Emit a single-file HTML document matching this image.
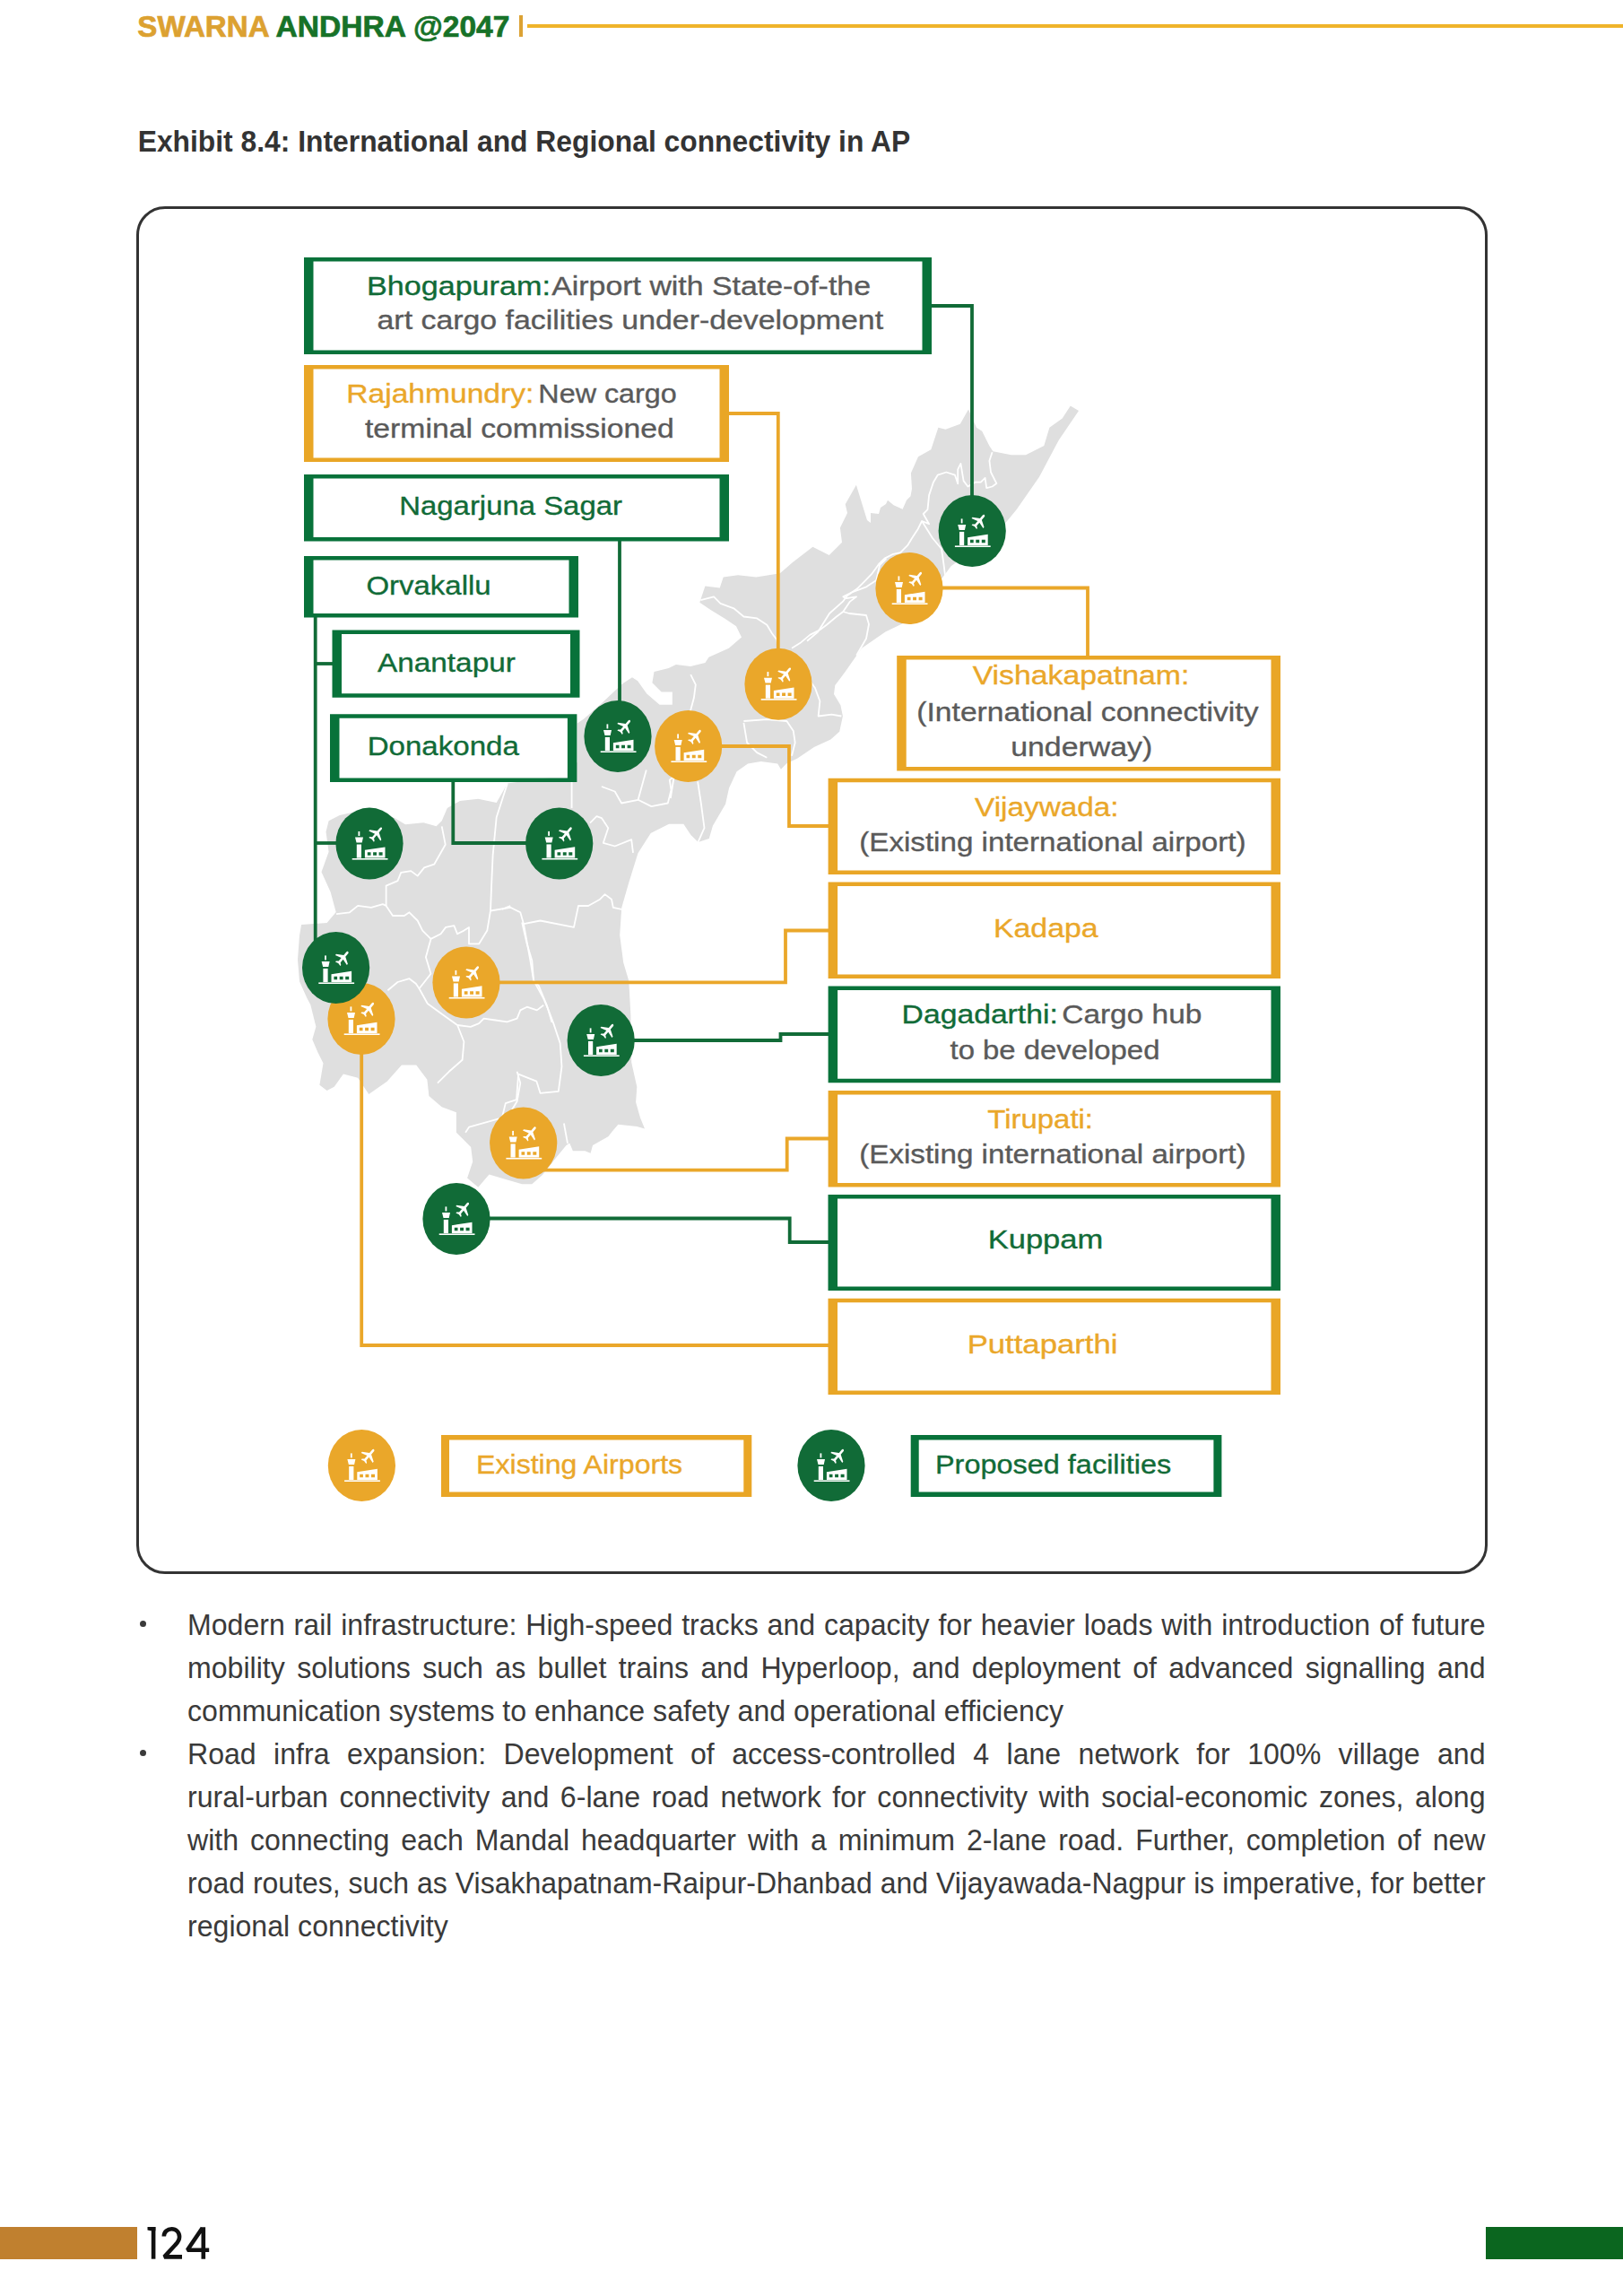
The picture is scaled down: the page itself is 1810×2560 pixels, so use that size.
<!DOCTYPE html>
<html><head><meta charset="utf-8"><style>
html,body{margin:0;padding:0;background:#fff;}
body{width:1810px;height:2560px;position:relative;overflow:hidden;font-family:"Liberation Sans",sans-serif;}
svg text{font-family:"Liberation Sans",sans-serif;}
.abs{position:absolute;white-space:nowrap;}
.bl{position:absolute;left:209px;width:1511px;font-size:33.5px;color:#3a3a3a;white-space:nowrap;line-height:48px;height:48px;transform:scaleX(0.958);transform-origin:0 0;}
.j{text-align:justify;text-align-last:justify;}
.dot{position:absolute;left:155.5px;width:7px;height:7px;border-radius:50%;background:#3a3a3a;}
</style></head><body>

<svg class="abs" style="left:0;top:0" width="1810" height="200"><text x="153.35" y="40.7" font-size="32.6" font-weight="bold" fill="#dca131" stroke="#dca131" stroke-width="0.7" textLength="147.23" lengthAdjust="spacingAndGlyphs">SWARNA</text><text x="307.46" y="40.7" font-size="32.6" font-weight="bold" fill="#177228" stroke="#177228" stroke-width="0.7" textLength="261.01" lengthAdjust="spacingAndGlyphs">ANDHRA @2047</text><text x="153.67" y="168.5" font-size="33.1" font-weight="bold" fill="#333" textLength="861.52" lengthAdjust="spacingAndGlyphs">Exhibit 8.4: International and Regional connectivity in AP</text></svg>
<div class="abs" style="left:578.8px;top:17px;width:4.4px;height:23.8px;background:#dca234"></div>
<div class="abs" style="left:587.6px;top:27.3px;width:1223px;height:3.4px;background:#efb42a"></div>
<div class="abs" style="left:151.5px;top:229.5px;width:1501px;height:1519px;border:3px solid #333;border-radius:32px;"></div>
<svg width="1810" height="2560" style="position:absolute;left:0;top:0"><polygon points="1203,458 1180.6,491 1159,531.7 1133.8,568 1122.7,581.5 1090,610 1060.6,631.3 1051.5,643.5 1028.8,673 1006.6,695.3 987.4,704.5 961,722.8 942.4,749.3 931.3,764.1 930,774 937.4,786.3 939.9,798.6 936.2,815.8 926.4,824.5 907.9,833.1 889.4,845.4 877,851.6 870.9,857.7 867.2,851.6 848.7,849.1 834,851.6 821.6,860.2 813,878.7 809.1,896.4 794.9,920.8 790.8,935 778.6,939.1 770.5,931 762.3,918.8 746,918.8 725.7,929 711.5,951.3 701.3,983.9 693.2,1012.3 691.2,1042.8 695.2,1073.3 701.3,1093.7 703.4,1132.3 704.2,1184.6 710.3,1211.8 709.1,1229 714,1246.3 719,1258.6 710.3,1256.1 689.4,1253.7 683.2,1261 678.3,1267.2 661,1277 658.6,1285.7 652.4,1283.2 638.9,1283.2 635.2,1274.6 631.5,1277 619.2,1291.9 605,1310 593.3,1320.2 582.2,1320.2 564.9,1315.3 545.5,1309.4 533.3,1323.7 521.1,1313.5 527.2,1295.2 525.2,1278.9 508.9,1262.7 508.9,1240.3 492.7,1234.2 478.4,1222 476.4,1203.7 464.2,1187.4 447.9,1187.4 431.7,1205.7 411.3,1220 399.1,1201.7 382.9,1197.6 372.7,1211.8 364.6,1215.9 356.4,1209.8 360.5,1185.4 354.4,1173.2 348.3,1159 352.4,1144.7 346.3,1120.3 342.2,1112.5 334,1094.2 332,1070 334,1043.3 336.1,1031.1 364.6,1029.1 374.7,1016.9 368.6,994.5 358.5,972.2 366.6,949.8 363.5,927.4 366.6,915.2 378.8,909.1 410,902 440,912 452,919.3 472.3,917.3 486.6,921.3 492.7,915.2 498.8,901 513,892.9 533.3,890.8 553.7,894.9 561.8,880.7 565.9,873.5 620,866 643.8,850 643.8,806.5 651.2,801.6 670,785 694.3,762.2 705,755.2 711.2,759.3 721.3,773.5 735.6,785.7 749.8,785.7 749.8,771.5 737.6,771.5 727.4,761.3 729.5,749 745.7,745 753.9,741 770,743 786.4,739 790.5,732.8 812.8,722.7 827,710.5 821,698.3 808.8,690 792.5,680 780.3,671.8 786.4,653.5 802.7,655.6 806.7,643.4 823,641.3 843.3,643.4 869.8,639.3 884,627 906.4,609.8 924.7,619 939,604.7 936.9,588.5 945,572 942.7,562.2 954.9,540.8 967,580 971,583 971,572 980,573 982,566 988,562 990,557.7 996.6,563.3 1006.6,567.7 1011,557.7 1015.5,553.3 1017,545 1015.9,527.6 1024,509.3 1038.3,501.2 1046.4,476.8 1054.5,478.8 1070.8,472.7 1080,456.4 1089,476.8 1095.2,480.8 1103.3,497 1107.4,503.2 1127.7,507.3 1144,507.3 1164.3,497 1170.4,476.8 1184.7,466.6 1193.8,452.4" fill="#dfdfdf"/><polyline points="375.1,1019.2 389.9,1017.3 399.1,1009.9 413.9,1011.8 426.9,1008.1 430.6,1009.9 438,1021 450.9,1021 456.5,1017.3 465.7,1026.5 471.2,1037.6 480.5,1046.9 491.6,1041.3 497.1,1033.9 506.4,1032.1 510.1,1041.3 517.4,1037.6 523,1033.9 523,1052.4 534.1,1052.4 543.3,1037.6 547,1015.5 548,990 549.6,953.9 553.7,911.2 565.9,873.5" fill="none" stroke="#fff" stroke-width="1.8" stroke-linejoin="round"/><polyline points="430.6,1009.9 430.6,987.7 443.5,982.2 447.2,972.9 458.3,971.1 465.7,976.6 473.1,967.4 484.2,963.7 496.7,941.7 492.7,921.3" fill="none" stroke="#fff" stroke-width="1.8" stroke-linejoin="round"/><polyline points="547,1015.5 569.2,1011.8 580.3,1017.3 584,1030.2 602.5,1026.5 640,1033.9 645,1010 656.1,1010 669.1,1002.7 674.6,997.1 682,1002.7 683.8,1011.9 693.1,1013.8" fill="none" stroke="#fff" stroke-width="1.8" stroke-linejoin="round"/><polyline points="584,1030.2 591.4,1070.9 595.1,1093.1 606.2,1113.4 611.7,1126.4 617.3,1141.1 624.7,1163.3 626.5,1189.2 622.8,1216.9 602.5,1218.8 598.4,1205.7 578.1,1197.6 576,1226.1 563.8,1230.1 559.8,1246.4 523.2,1256.6 519.1,1262.7" fill="none" stroke="#fff" stroke-width="1.8" stroke-linejoin="round"/><polyline points="480.5,1046.9 474.9,1067.2 480.5,1085.7 467.5,1102.3 476.8,1119 497.1,1133.8 510.1,1143 517.4,1161.5 515.6,1181.8 500.8,1194.8 487.9,1207.7" fill="none" stroke="#fff" stroke-width="1.8" stroke-linejoin="round"/><polyline points="432.4,1104.2 443.5,1095 456.5,1091.2 463.8,1096.8 467.5,1102.3" fill="none" stroke="#fff" stroke-width="1.8" stroke-linejoin="round"/><polyline points="510.1,1143 524.8,1144.8 534.1,1141.1 539.6,1135.6 552.6,1137.5 565.5,1139.3 576.6,1135.6 580.3,1126.4 587.7,1122.7 598.8,1126.4 606.2,1120.8" fill="none" stroke="#fff" stroke-width="1.8" stroke-linejoin="round"/><polyline points="576.6,1194.8 580.3,1207.7 576.6,1228 571,1237.3" fill="none" stroke="#fff" stroke-width="1.8" stroke-linejoin="round"/><polyline points="628.9,1252.5 633,1274.9" fill="none" stroke="#fff" stroke-width="1.8" stroke-linejoin="round"/><polyline points="637.6,871.4 637.6,901" fill="none" stroke="#fff" stroke-width="1.8" stroke-linejoin="round"/><polyline points="658,917.6 665.4,910.2 670.9,912.1 678.3,923.2 672.8,939.8 685.7,943.5 704.2,936.1 706,950.9" fill="none" stroke="#fff" stroke-width="1.8" stroke-linejoin="round"/><polyline points="670.9,877 685.7,882.5 693.1,895.5 711.6,891.8 720.8,858.5" fill="none" stroke="#fff" stroke-width="1.8" stroke-linejoin="round"/><polyline points="711.6,891.8 726.4,899.1 744.8,895.5 748.5,880.7 746.7,869.6 754.1,864" fill="none" stroke="#fff" stroke-width="1.8" stroke-linejoin="round"/><polyline points="778.1,871.4 781.8,895.5 785.5,923.2 778.1,939.8" fill="none" stroke="#fff" stroke-width="1.8" stroke-linejoin="round"/><polyline points="560,1013.8 569.2,1010" fill="none" stroke="#fff" stroke-width="1.8" stroke-linejoin="round"/><polyline points="582.2,1028.5 587.7,1052.6 593.3,1071 595.1,1093.2 600.7,1098.8 609.9,1121 615.5,1140" fill="none" stroke="#fff" stroke-width="1.8" stroke-linejoin="round"/><polyline points="781.3,669.1 796.1,665.4 803.5,672.8 818.3,678.3 829.4,687.5 844.2,689.4 855.3,696.8 860.8,706 866.4,713.4 867.3,722.7" fill="none" stroke="#fff" stroke-width="1.8" stroke-linejoin="round"/><polyline points="883,722.7 892.2,717.1 903.3,707.9 914.4,702.3 921.8,696.8 932.9,687.5 940.3,682 947.7,670.9 955.1,665.4 943.9,667.2 940.3,665.4 951.4,659.8 966.2,654.3 977.3,646.9 981,630.2 988.4,622.8" fill="none" stroke="#fff" stroke-width="1.8" stroke-linejoin="round"/><polyline points="940.3,682 947,684 966,686 969,696 966,712 955.2,730.8" fill="none" stroke="#fff" stroke-width="1.8" stroke-linejoin="round"/><polyline points="899.6,754.1 908.9,767 914.4,781.8 912.6,798.5 927.4,796.6 938.4,798.5" fill="none" stroke="#fff" stroke-width="1.8" stroke-linejoin="round"/><polyline points="829.4,805.8 833.1,828 844.2,839.1 855.3,844.7" fill="none" stroke="#fff" stroke-width="1.8" stroke-linejoin="round"/><polyline points="829.4,804 855.3,802.1 877.4,804 884.8,815.1 886.7,828 883,842.8" fill="none" stroke="#fff" stroke-width="1.8" stroke-linejoin="round"/><polyline points="770.2,752.2 775.8,763.3 773.9,778.1 768.4,798.5 762.8,815.1" fill="none" stroke="#fff" stroke-width="1.8" stroke-linejoin="round"/><polyline points="751.8,865 747.8,890" fill="none" stroke="#fff" stroke-width="1.8" stroke-linejoin="round"/><polyline points="1106.6,504.1 1103.4,513.7 1105,526.5 1111.4,539.1 1106.6,542.5 1100.2,544.1 1098.6,532.9 1093.8,537.7 1087.4,537.7 1079.4,542.5 1074.6,536.1 1071.4,516.9 1068.2,523.3 1068.2,539.3 1065,529.7 1055.3,526.5 1045.7,529.7 1040.9,537.7 1036.1,552.1 1034.5,568.2 1029.7,573 1036.1,584.2 1028.1,581 1023.3,590.6 1016.9,600.2 1012.1,608.2 1004.1,616.2 996.1,617.8 986.5,622.6 980.1,629 972,640.2 964,648.3 956,656.3 944.8,664.3 940,670.7 925,684 912.2,704.5 900,714.7" fill="none" stroke="#fff" stroke-width="1.8" stroke-linejoin="round"/><polyline points="1028.1,581 1040,600 1050,612 1052.5,629.3 1054.5,645.5" fill="none" stroke="#fff" stroke-width="1.8" stroke-linejoin="round"/><polyline points="1039,341 1084,341 1084,560" fill="none" stroke="#116b37" stroke-width="3.8" stroke-linejoin="miter"/><polyline points="691,603 691,790" fill="none" stroke="#116b37" stroke-width="3.8" stroke-linejoin="miter"/><polyline points="351.7,688 351.7,1050" fill="none" stroke="#116b37" stroke-width="3.8" stroke-linejoin="miter"/><polyline points="351.7,740 372,740" fill="none" stroke="#116b37" stroke-width="3.8" stroke-linejoin="miter"/><polyline points="351.7,940 380,940" fill="none" stroke="#116b37" stroke-width="3.8" stroke-linejoin="miter"/><polyline points="505.3,871 505.3,940 590,940" fill="none" stroke="#116b37" stroke-width="3.8" stroke-linejoin="miter"/><polyline points="700,1160 870.5,1160 870.5,1153 925,1153" fill="none" stroke="#116b37" stroke-width="3.8" stroke-linejoin="miter"/><polyline points="540,1358.5 880.7,1358.5 880.7,1385 925,1385" fill="none" stroke="#116b37" stroke-width="3.8" stroke-linejoin="miter"/><polyline points="813,461 867.8,461 867.8,730" fill="none" stroke="#eaa72a" stroke-width="3.8" stroke-linejoin="miter"/><polyline points="1045,655.5 1213,655.5 1213,732" fill="none" stroke="#eaa72a" stroke-width="3.8" stroke-linejoin="miter"/><polyline points="800,832 880,832 880,921 925,921" fill="none" stroke="#eaa72a" stroke-width="3.8" stroke-linejoin="miter"/><polyline points="550,1095.3 876,1095.3 876,1037.5 925,1037.5" fill="none" stroke="#eaa72a" stroke-width="3.8" stroke-linejoin="miter"/><polyline points="600,1304.7 877.7,1304.7 877.7,1269.5 925,1269.5" fill="none" stroke="#eaa72a" stroke-width="3.8" stroke-linejoin="miter"/><polyline points="403.2,1170 403.2,1500 925,1500" fill="none" stroke="#eaa72a" stroke-width="3.8" stroke-linejoin="miter"/><rect x="349.5" y="291.5" width="679.0" height="99.0" fill="#fff"/><path d="M339,287h700v108h-700Z M349.5,291.5v99.0h679.0v-99.0Z" fill="#08723a" fill-rule="evenodd"/><rect x="349.5" y="411.5" width="453.0" height="99.0" fill="#fff"/><path d="M339,407h474v108h-474Z M349.5,411.5v99.0h453.0v-99.0Z" fill="#e9a626" fill-rule="evenodd"/><rect x="349.5" y="533.5" width="453.0" height="65.5" fill="#fff"/><path d="M339,529h474v74.5h-474Z M349.5,533.5v65.5h453.0v-65.5Z" fill="#08723a" fill-rule="evenodd"/><rect x="349.5" y="624.5" width="285.0" height="59.5" fill="#fff"/><path d="M339,620h306v68.5h-306Z M349.5,624.5v59.5h285.0v-59.5Z" fill="#08723a" fill-rule="evenodd"/><rect x="381.0" y="707.0" width="255.0" height="66.20000000000005" fill="#fff"/><path d="M370.5,702.5h276.0v75.20000000000005h-276.0Z M381.0,707.0v66.20000000000005h255.0v-66.20000000000005Z" fill="#08723a" fill-rule="evenodd"/><rect x="378.5" y="800.7" width="254.39999999999998" height="66.79999999999995" fill="#fff"/><path d="M368,796.2h275.4v75.79999999999995h-275.4Z M378.5,800.7v66.79999999999995h254.39999999999998v-66.79999999999995Z" fill="#08723a" fill-rule="evenodd"/><rect x="1010.7" y="735.5" width="406.79999999999995" height="119.60000000000002" fill="#fff"/><path d="M1000.2,731h427.79999999999995v128.60000000000002h-427.79999999999995Z M1010.7,735.5v119.60000000000002h406.79999999999995v-119.60000000000002Z" fill="#e9a626" fill-rule="evenodd"/><rect x="934.1" y="872.2" width="483.4" height="98.29999999999995" fill="#fff"/><path d="M923.6,867.7h504.4v107.29999999999995h-504.4Z M934.1,872.2v98.29999999999995h483.4v-98.29999999999995Z" fill="#e9a626" fill-rule="evenodd"/><rect x="934.1" y="988.0" width="483.4" height="98.5" fill="#fff"/><path d="M923.6,983.5h504.4v107.5h-504.4Z M934.1,988.0v98.5h483.4v-98.5Z" fill="#e9a626" fill-rule="evenodd"/><rect x="934.1" y="1103.9" width="483.4" height="98.89999999999986" fill="#fff"/><path d="M923.6,1099.4h504.4v107.89999999999986h-504.4Z M934.1,1103.9v98.89999999999986h483.4v-98.89999999999986Z" fill="#08723a" fill-rule="evenodd"/><rect x="934.1" y="1220.5" width="483.4" height="98.59999999999991" fill="#fff"/><path d="M923.6,1216h504.4v107.59999999999991h-504.4Z M934.1,1220.5v98.59999999999991h483.4v-98.59999999999991Z" fill="#e9a626" fill-rule="evenodd"/><rect x="934.0" y="1336.5" width="483.5" height="98.0" fill="#fff"/><path d="M923.5,1332h504.5v107h-504.5Z M934.0,1336.5v98.0h483.5v-98.0Z" fill="#08723a" fill-rule="evenodd"/><rect x="934.0" y="1452.2" width="483.5" height="98.29999999999995" fill="#fff"/><path d="M923.5,1447.7h504.5v107.29999999999995h-504.5Z M934.0,1452.2v98.29999999999995h483.5v-98.29999999999995Z" fill="#e9a626" fill-rule="evenodd"/><rect x="501" y="1605.5" width="328.29999999999995" height="58.0" fill="#fff"/><path d="M492,1600h346.29999999999995v69h-346.29999999999995Z M501,1605.5v58.0h328.29999999999995v-58.0Z" fill="#e9a626" fill-rule="evenodd"/><rect x="1024.7" y="1605.5" width="328.70000000000005" height="58.0" fill="#fff"/><path d="M1015.7,1600h346.70000000000005v69h-346.70000000000005Z M1024.7,1605.5v58.0h328.70000000000005v-58.0Z" fill="#08723a" fill-rule="evenodd"/><ellipse cx="1014" cy="656" rx="37.6" ry="40" fill="#eaa72a"/><g transform="translate(1014,656)" fill="#fff"><rect x="-12.5" y="-13.6" width="1.8" height="5"/><path d="M-16,-7 L-7,-7 L-8.3,-1.1 L-14.5,-1.1 Z"/><rect x="-14.2" y="0.9" width="5.2" height="15.1"/><path d="M-5.1,16 L-5.1,7.2 L17.5,3.8 L17.5,16 Z M-2.2,9.7 L-2.2,13.2 L1.5,13.2 L1.5,9.7 Z M4.1,9.7 L4.1,13.2 L8,13.2 L8,9.7 Z M10.6,9.7 L10.6,13.2 L14.6,13.2 L14.6,9.7 Z" fill-rule="evenodd"/><rect x="-19.3" y="16.4" width="39.8" height="1.6"/><g transform="translate(7.85,-11) rotate(40.3)"><path d="M0,-9 C0.9,-9 1.3,-8.2 1.3,-7 L1.3,-2.8 L8.5,1.6 L8.5,3.2 L1.3,1.2 L1.3,5.8 L3.6,7.6 L3.6,8.8 L0,8 L-3.6,8.8 L-3.6,7.6 L-1.3,5.8 L-1.3,1.2 L-8.5,3.2 L-8.5,1.6 L-1.3,-2.8 L-1.3,-7 C-1.3,-8.2 -0.9,-9 0,-9 Z"/></g></g><ellipse cx="868" cy="762.7" rx="37.6" ry="40" fill="#eaa72a"/><g transform="translate(868,762.7)" fill="#fff"><rect x="-12.5" y="-13.6" width="1.8" height="5"/><path d="M-16,-7 L-7,-7 L-8.3,-1.1 L-14.5,-1.1 Z"/><rect x="-14.2" y="0.9" width="5.2" height="15.1"/><path d="M-5.1,16 L-5.1,7.2 L17.5,3.8 L17.5,16 Z M-2.2,9.7 L-2.2,13.2 L1.5,13.2 L1.5,9.7 Z M4.1,9.7 L4.1,13.2 L8,13.2 L8,9.7 Z M10.6,9.7 L10.6,13.2 L14.6,13.2 L14.6,9.7 Z" fill-rule="evenodd"/><rect x="-19.3" y="16.4" width="39.8" height="1.6"/><g transform="translate(7.85,-11) rotate(40.3)"><path d="M0,-9 C0.9,-9 1.3,-8.2 1.3,-7 L1.3,-2.8 L8.5,1.6 L8.5,3.2 L1.3,1.2 L1.3,5.8 L3.6,7.6 L3.6,8.8 L0,8 L-3.6,8.8 L-3.6,7.6 L-1.3,5.8 L-1.3,1.2 L-8.5,3.2 L-8.5,1.6 L-1.3,-2.8 L-1.3,-7 C-1.3,-8.2 -0.9,-9 0,-9 Z"/></g></g><ellipse cx="767.7" cy="832" rx="37.6" ry="40" fill="#eaa72a"/><g transform="translate(767.7,832)" fill="#fff"><rect x="-12.5" y="-13.6" width="1.8" height="5"/><path d="M-16,-7 L-7,-7 L-8.3,-1.1 L-14.5,-1.1 Z"/><rect x="-14.2" y="0.9" width="5.2" height="15.1"/><path d="M-5.1,16 L-5.1,7.2 L17.5,3.8 L17.5,16 Z M-2.2,9.7 L-2.2,13.2 L1.5,13.2 L1.5,9.7 Z M4.1,9.7 L4.1,13.2 L8,13.2 L8,9.7 Z M10.6,9.7 L10.6,13.2 L14.6,13.2 L14.6,9.7 Z" fill-rule="evenodd"/><rect x="-19.3" y="16.4" width="39.8" height="1.6"/><g transform="translate(7.85,-11) rotate(40.3)"><path d="M0,-9 C0.9,-9 1.3,-8.2 1.3,-7 L1.3,-2.8 L8.5,1.6 L8.5,3.2 L1.3,1.2 L1.3,5.8 L3.6,7.6 L3.6,8.8 L0,8 L-3.6,8.8 L-3.6,7.6 L-1.3,5.8 L-1.3,1.2 L-8.5,3.2 L-8.5,1.6 L-1.3,-2.8 L-1.3,-7 C-1.3,-8.2 -0.9,-9 0,-9 Z"/></g></g><ellipse cx="520" cy="1095.5" rx="37.6" ry="40" fill="#eaa72a"/><g transform="translate(520,1095.5)" fill="#fff"><rect x="-12.5" y="-13.6" width="1.8" height="5"/><path d="M-16,-7 L-7,-7 L-8.3,-1.1 L-14.5,-1.1 Z"/><rect x="-14.2" y="0.9" width="5.2" height="15.1"/><path d="M-5.1,16 L-5.1,7.2 L17.5,3.8 L17.5,16 Z M-2.2,9.7 L-2.2,13.2 L1.5,13.2 L1.5,9.7 Z M4.1,9.7 L4.1,13.2 L8,13.2 L8,9.7 Z M10.6,9.7 L10.6,13.2 L14.6,13.2 L14.6,9.7 Z" fill-rule="evenodd"/><rect x="-19.3" y="16.4" width="39.8" height="1.6"/><g transform="translate(7.85,-11) rotate(40.3)"><path d="M0,-9 C0.9,-9 1.3,-8.2 1.3,-7 L1.3,-2.8 L8.5,1.6 L8.5,3.2 L1.3,1.2 L1.3,5.8 L3.6,7.6 L3.6,8.8 L0,8 L-3.6,8.8 L-3.6,7.6 L-1.3,5.8 L-1.3,1.2 L-8.5,3.2 L-8.5,1.6 L-1.3,-2.8 L-1.3,-7 C-1.3,-8.2 -0.9,-9 0,-9 Z"/></g></g><ellipse cx="403" cy="1136" rx="37.6" ry="40" fill="#eaa72a"/><g transform="translate(403,1136)" fill="#fff"><rect x="-12.5" y="-13.6" width="1.8" height="5"/><path d="M-16,-7 L-7,-7 L-8.3,-1.1 L-14.5,-1.1 Z"/><rect x="-14.2" y="0.9" width="5.2" height="15.1"/><path d="M-5.1,16 L-5.1,7.2 L17.5,3.8 L17.5,16 Z M-2.2,9.7 L-2.2,13.2 L1.5,13.2 L1.5,9.7 Z M4.1,9.7 L4.1,13.2 L8,13.2 L8,9.7 Z M10.6,9.7 L10.6,13.2 L14.6,13.2 L14.6,9.7 Z" fill-rule="evenodd"/><rect x="-19.3" y="16.4" width="39.8" height="1.6"/><g transform="translate(7.85,-11) rotate(40.3)"><path d="M0,-9 C0.9,-9 1.3,-8.2 1.3,-7 L1.3,-2.8 L8.5,1.6 L8.5,3.2 L1.3,1.2 L1.3,5.8 L3.6,7.6 L3.6,8.8 L0,8 L-3.6,8.8 L-3.6,7.6 L-1.3,5.8 L-1.3,1.2 L-8.5,3.2 L-8.5,1.6 L-1.3,-2.8 L-1.3,-7 C-1.3,-8.2 -0.9,-9 0,-9 Z"/></g></g><ellipse cx="583.7" cy="1274.5" rx="37.6" ry="40" fill="#eaa72a"/><g transform="translate(583.7,1274.5)" fill="#fff"><rect x="-12.5" y="-13.6" width="1.8" height="5"/><path d="M-16,-7 L-7,-7 L-8.3,-1.1 L-14.5,-1.1 Z"/><rect x="-14.2" y="0.9" width="5.2" height="15.1"/><path d="M-5.1,16 L-5.1,7.2 L17.5,3.8 L17.5,16 Z M-2.2,9.7 L-2.2,13.2 L1.5,13.2 L1.5,9.7 Z M4.1,9.7 L4.1,13.2 L8,13.2 L8,9.7 Z M10.6,9.7 L10.6,13.2 L14.6,13.2 L14.6,9.7 Z" fill-rule="evenodd"/><rect x="-19.3" y="16.4" width="39.8" height="1.6"/><g transform="translate(7.85,-11) rotate(40.3)"><path d="M0,-9 C0.9,-9 1.3,-8.2 1.3,-7 L1.3,-2.8 L8.5,1.6 L8.5,3.2 L1.3,1.2 L1.3,5.8 L3.6,7.6 L3.6,8.8 L0,8 L-3.6,8.8 L-3.6,7.6 L-1.3,5.8 L-1.3,1.2 L-8.5,3.2 L-8.5,1.6 L-1.3,-2.8 L-1.3,-7 C-1.3,-8.2 -0.9,-9 0,-9 Z"/></g></g><ellipse cx="1084.2" cy="592" rx="37.6" ry="40" fill="#116b37"/><g transform="translate(1084.2,592)" fill="#fff"><rect x="-12.5" y="-13.6" width="1.8" height="5"/><path d="M-16,-7 L-7,-7 L-8.3,-1.1 L-14.5,-1.1 Z"/><rect x="-14.2" y="0.9" width="5.2" height="15.1"/><path d="M-5.1,16 L-5.1,7.2 L17.5,3.8 L17.5,16 Z M-2.2,9.7 L-2.2,13.2 L1.5,13.2 L1.5,9.7 Z M4.1,9.7 L4.1,13.2 L8,13.2 L8,9.7 Z M10.6,9.7 L10.6,13.2 L14.6,13.2 L14.6,9.7 Z" fill-rule="evenodd"/><rect x="-19.3" y="16.4" width="39.8" height="1.6"/><g transform="translate(7.85,-11) rotate(40.3)"><path d="M0,-9 C0.9,-9 1.3,-8.2 1.3,-7 L1.3,-2.8 L8.5,1.6 L8.5,3.2 L1.3,1.2 L1.3,5.8 L3.6,7.6 L3.6,8.8 L0,8 L-3.6,8.8 L-3.6,7.6 L-1.3,5.8 L-1.3,1.2 L-8.5,3.2 L-8.5,1.6 L-1.3,-2.8 L-1.3,-7 C-1.3,-8.2 -0.9,-9 0,-9 Z"/></g></g><ellipse cx="689" cy="821" rx="37.6" ry="40" fill="#116b37"/><g transform="translate(689,821)" fill="#fff"><rect x="-12.5" y="-13.6" width="1.8" height="5"/><path d="M-16,-7 L-7,-7 L-8.3,-1.1 L-14.5,-1.1 Z"/><rect x="-14.2" y="0.9" width="5.2" height="15.1"/><path d="M-5.1,16 L-5.1,7.2 L17.5,3.8 L17.5,16 Z M-2.2,9.7 L-2.2,13.2 L1.5,13.2 L1.5,9.7 Z M4.1,9.7 L4.1,13.2 L8,13.2 L8,9.7 Z M10.6,9.7 L10.6,13.2 L14.6,13.2 L14.6,9.7 Z" fill-rule="evenodd"/><rect x="-19.3" y="16.4" width="39.8" height="1.6"/><g transform="translate(7.85,-11) rotate(40.3)"><path d="M0,-9 C0.9,-9 1.3,-8.2 1.3,-7 L1.3,-2.8 L8.5,1.6 L8.5,3.2 L1.3,1.2 L1.3,5.8 L3.6,7.6 L3.6,8.8 L0,8 L-3.6,8.8 L-3.6,7.6 L-1.3,5.8 L-1.3,1.2 L-8.5,3.2 L-8.5,1.6 L-1.3,-2.8 L-1.3,-7 C-1.3,-8.2 -0.9,-9 0,-9 Z"/></g></g><ellipse cx="412" cy="940.6" rx="37.6" ry="40" fill="#116b37"/><g transform="translate(412,940.6)" fill="#fff"><rect x="-12.5" y="-13.6" width="1.8" height="5"/><path d="M-16,-7 L-7,-7 L-8.3,-1.1 L-14.5,-1.1 Z"/><rect x="-14.2" y="0.9" width="5.2" height="15.1"/><path d="M-5.1,16 L-5.1,7.2 L17.5,3.8 L17.5,16 Z M-2.2,9.7 L-2.2,13.2 L1.5,13.2 L1.5,9.7 Z M4.1,9.7 L4.1,13.2 L8,13.2 L8,9.7 Z M10.6,9.7 L10.6,13.2 L14.6,13.2 L14.6,9.7 Z" fill-rule="evenodd"/><rect x="-19.3" y="16.4" width="39.8" height="1.6"/><g transform="translate(7.85,-11) rotate(40.3)"><path d="M0,-9 C0.9,-9 1.3,-8.2 1.3,-7 L1.3,-2.8 L8.5,1.6 L8.5,3.2 L1.3,1.2 L1.3,5.8 L3.6,7.6 L3.6,8.8 L0,8 L-3.6,8.8 L-3.6,7.6 L-1.3,5.8 L-1.3,1.2 L-8.5,3.2 L-8.5,1.6 L-1.3,-2.8 L-1.3,-7 C-1.3,-8.2 -0.9,-9 0,-9 Z"/></g></g><ellipse cx="623.7" cy="940.5" rx="37.6" ry="40" fill="#116b37"/><g transform="translate(623.7,940.5)" fill="#fff"><rect x="-12.5" y="-13.6" width="1.8" height="5"/><path d="M-16,-7 L-7,-7 L-8.3,-1.1 L-14.5,-1.1 Z"/><rect x="-14.2" y="0.9" width="5.2" height="15.1"/><path d="M-5.1,16 L-5.1,7.2 L17.5,3.8 L17.5,16 Z M-2.2,9.7 L-2.2,13.2 L1.5,13.2 L1.5,9.7 Z M4.1,9.7 L4.1,13.2 L8,13.2 L8,9.7 Z M10.6,9.7 L10.6,13.2 L14.6,13.2 L14.6,9.7 Z" fill-rule="evenodd"/><rect x="-19.3" y="16.4" width="39.8" height="1.6"/><g transform="translate(7.85,-11) rotate(40.3)"><path d="M0,-9 C0.9,-9 1.3,-8.2 1.3,-7 L1.3,-2.8 L8.5,1.6 L8.5,3.2 L1.3,1.2 L1.3,5.8 L3.6,7.6 L3.6,8.8 L0,8 L-3.6,8.8 L-3.6,7.6 L-1.3,5.8 L-1.3,1.2 L-8.5,3.2 L-8.5,1.6 L-1.3,-2.8 L-1.3,-7 C-1.3,-8.2 -0.9,-9 0,-9 Z"/></g></g><ellipse cx="374.6" cy="1079" rx="37.6" ry="40" fill="#116b37"/><g transform="translate(374.6,1079)" fill="#fff"><rect x="-12.5" y="-13.6" width="1.8" height="5"/><path d="M-16,-7 L-7,-7 L-8.3,-1.1 L-14.5,-1.1 Z"/><rect x="-14.2" y="0.9" width="5.2" height="15.1"/><path d="M-5.1,16 L-5.1,7.2 L17.5,3.8 L17.5,16 Z M-2.2,9.7 L-2.2,13.2 L1.5,13.2 L1.5,9.7 Z M4.1,9.7 L4.1,13.2 L8,13.2 L8,9.7 Z M10.6,9.7 L10.6,13.2 L14.6,13.2 L14.6,9.7 Z" fill-rule="evenodd"/><rect x="-19.3" y="16.4" width="39.8" height="1.6"/><g transform="translate(7.85,-11) rotate(40.3)"><path d="M0,-9 C0.9,-9 1.3,-8.2 1.3,-7 L1.3,-2.8 L8.5,1.6 L8.5,3.2 L1.3,1.2 L1.3,5.8 L3.6,7.6 L3.6,8.8 L0,8 L-3.6,8.8 L-3.6,7.6 L-1.3,5.8 L-1.3,1.2 L-8.5,3.2 L-8.5,1.6 L-1.3,-2.8 L-1.3,-7 C-1.3,-8.2 -0.9,-9 0,-9 Z"/></g></g><ellipse cx="670.2" cy="1160" rx="37.6" ry="40" fill="#116b37"/><g transform="translate(670.2,1160)" fill="#fff"><rect x="-12.5" y="-13.6" width="1.8" height="5"/><path d="M-16,-7 L-7,-7 L-8.3,-1.1 L-14.5,-1.1 Z"/><rect x="-14.2" y="0.9" width="5.2" height="15.1"/><path d="M-5.1,16 L-5.1,7.2 L17.5,3.8 L17.5,16 Z M-2.2,9.7 L-2.2,13.2 L1.5,13.2 L1.5,9.7 Z M4.1,9.7 L4.1,13.2 L8,13.2 L8,9.7 Z M10.6,9.7 L10.6,13.2 L14.6,13.2 L14.6,9.7 Z" fill-rule="evenodd"/><rect x="-19.3" y="16.4" width="39.8" height="1.6"/><g transform="translate(7.85,-11) rotate(40.3)"><path d="M0,-9 C0.9,-9 1.3,-8.2 1.3,-7 L1.3,-2.8 L8.5,1.6 L8.5,3.2 L1.3,1.2 L1.3,5.8 L3.6,7.6 L3.6,8.8 L0,8 L-3.6,8.8 L-3.6,7.6 L-1.3,5.8 L-1.3,1.2 L-8.5,3.2 L-8.5,1.6 L-1.3,-2.8 L-1.3,-7 C-1.3,-8.2 -0.9,-9 0,-9 Z"/></g></g><ellipse cx="509" cy="1359" rx="37.6" ry="40" fill="#116b37"/><g transform="translate(509,1359)" fill="#fff"><rect x="-12.5" y="-13.6" width="1.8" height="5"/><path d="M-16,-7 L-7,-7 L-8.3,-1.1 L-14.5,-1.1 Z"/><rect x="-14.2" y="0.9" width="5.2" height="15.1"/><path d="M-5.1,16 L-5.1,7.2 L17.5,3.8 L17.5,16 Z M-2.2,9.7 L-2.2,13.2 L1.5,13.2 L1.5,9.7 Z M4.1,9.7 L4.1,13.2 L8,13.2 L8,9.7 Z M10.6,9.7 L10.6,13.2 L14.6,13.2 L14.6,9.7 Z" fill-rule="evenodd"/><rect x="-19.3" y="16.4" width="39.8" height="1.6"/><g transform="translate(7.85,-11) rotate(40.3)"><path d="M0,-9 C0.9,-9 1.3,-8.2 1.3,-7 L1.3,-2.8 L8.5,1.6 L8.5,3.2 L1.3,1.2 L1.3,5.8 L3.6,7.6 L3.6,8.8 L0,8 L-3.6,8.8 L-3.6,7.6 L-1.3,5.8 L-1.3,1.2 L-8.5,3.2 L-8.5,1.6 L-1.3,-2.8 L-1.3,-7 C-1.3,-8.2 -0.9,-9 0,-9 Z"/></g></g><ellipse cx="403.4" cy="1634" rx="37.6" ry="40" fill="#eaa72a"/><g transform="translate(403.4,1634)" fill="#fff"><rect x="-12.5" y="-13.6" width="1.8" height="5"/><path d="M-16,-7 L-7,-7 L-8.3,-1.1 L-14.5,-1.1 Z"/><rect x="-14.2" y="0.9" width="5.2" height="15.1"/><path d="M-5.1,16 L-5.1,7.2 L17.5,3.8 L17.5,16 Z M-2.2,9.7 L-2.2,13.2 L1.5,13.2 L1.5,9.7 Z M4.1,9.7 L4.1,13.2 L8,13.2 L8,9.7 Z M10.6,9.7 L10.6,13.2 L14.6,13.2 L14.6,9.7 Z" fill-rule="evenodd"/><rect x="-19.3" y="16.4" width="39.8" height="1.6"/><g transform="translate(7.85,-11) rotate(40.3)"><path d="M0,-9 C0.9,-9 1.3,-8.2 1.3,-7 L1.3,-2.8 L8.5,1.6 L8.5,3.2 L1.3,1.2 L1.3,5.8 L3.6,7.6 L3.6,8.8 L0,8 L-3.6,8.8 L-3.6,7.6 L-1.3,5.8 L-1.3,1.2 L-8.5,3.2 L-8.5,1.6 L-1.3,-2.8 L-1.3,-7 C-1.3,-8.2 -0.9,-9 0,-9 Z"/></g></g><ellipse cx="927" cy="1634" rx="37.6" ry="40" fill="#116b37"/><g transform="translate(927,1634)" fill="#fff"><rect x="-12.5" y="-13.6" width="1.8" height="5"/><path d="M-16,-7 L-7,-7 L-8.3,-1.1 L-14.5,-1.1 Z"/><rect x="-14.2" y="0.9" width="5.2" height="15.1"/><path d="M-5.1,16 L-5.1,7.2 L17.5,3.8 L17.5,16 Z M-2.2,9.7 L-2.2,13.2 L1.5,13.2 L1.5,9.7 Z M4.1,9.7 L4.1,13.2 L8,13.2 L8,9.7 Z M10.6,9.7 L10.6,13.2 L14.6,13.2 L14.6,9.7 Z" fill-rule="evenodd"/><rect x="-19.3" y="16.4" width="39.8" height="1.6"/><g transform="translate(7.85,-11) rotate(40.3)"><path d="M0,-9 C0.9,-9 1.3,-8.2 1.3,-7 L1.3,-2.8 L8.5,1.6 L8.5,3.2 L1.3,1.2 L1.3,5.8 L3.6,7.6 L3.6,8.8 L0,8 L-3.6,8.8 L-3.6,7.6 L-1.3,5.8 L-1.3,1.2 L-8.5,3.2 L-8.5,1.6 L-1.3,-2.8 L-1.3,-7 C-1.3,-8.2 -0.9,-9 0,-9 Z"/></g></g><text x="408.90" y="328.7" textLength="205.02" lengthAdjust="spacingAndGlyphs" fill="#116b37" stroke="#116b37" stroke-width="0.35" font-size="29.5">Bhogapuram:</text><text x="615.23" y="328.7" textLength="355.77" lengthAdjust="spacingAndGlyphs" fill="#5a5a5a" stroke="#5a5a5a" stroke-width="0.35" font-size="29.5">Airport with State-of-the</text><text x="420.56" y="367.4" textLength="564.49" lengthAdjust="spacingAndGlyphs" fill="#5a5a5a" stroke="#5a5a5a" stroke-width="0.35" font-size="29.5">art cargo facilities under-development</text><text x="386.24" y="448.7" textLength="209.12" lengthAdjust="spacingAndGlyphs" fill="#eaa72a" stroke="#eaa72a" stroke-width="0.35" font-size="29.5">Rajahmundry:</text><text x="600.35" y="448.7" textLength="154.41" lengthAdjust="spacingAndGlyphs" fill="#5a5a5a" stroke="#5a5a5a" stroke-width="0.35" font-size="29.5">New cargo</text><text x="406.99" y="488" textLength="344.68" lengthAdjust="spacingAndGlyphs" fill="#5a5a5a" stroke="#5a5a5a" stroke-width="0.35" font-size="29.5">terminal commissioned</text><text x="445.30" y="574.4" textLength="248.64" lengthAdjust="spacingAndGlyphs" fill="#116b37" stroke="#116b37" stroke-width="0.35" font-size="29.5">Nagarjuna Sagar</text><text x="408.44" y="663" textLength="139.25" lengthAdjust="spacingAndGlyphs" fill="#116b37" stroke="#116b37" stroke-width="0.35" font-size="29.5">Orvakallu</text><text x="420.93" y="748.6" textLength="153.92" lengthAdjust="spacingAndGlyphs" fill="#116b37" stroke="#116b37" stroke-width="0.35" font-size="29.5">Anantapur</text><text x="409.69" y="841.8" textLength="169.11" lengthAdjust="spacingAndGlyphs" fill="#116b37" stroke="#116b37" stroke-width="0.35" font-size="29.5">Donakonda</text><text x="1084.65" y="763" textLength="241.73" lengthAdjust="spacingAndGlyphs" fill="#eaa72a" stroke="#eaa72a" stroke-width="0.35" font-size="29.5">Vishakapatnam:</text><text x="1022.32" y="803.6" textLength="381.15" lengthAdjust="spacingAndGlyphs" fill="#5a5a5a" stroke="#5a5a5a" stroke-width="0.35" font-size="29.5">(International connectivity</text><text x="1127.20" y="843" textLength="158.10" lengthAdjust="spacingAndGlyphs" fill="#5a5a5a" stroke="#5a5a5a" stroke-width="0.35" font-size="29.5">underway)</text><text x="1087.05" y="909.6" textLength="160.49" lengthAdjust="spacingAndGlyphs" fill="#eaa72a" stroke="#eaa72a" stroke-width="0.35" font-size="29.5">Vijaywada:</text><text x="958.24" y="949" textLength="431.21" lengthAdjust="spacingAndGlyphs" fill="#5a5a5a" stroke="#5a5a5a" stroke-width="0.35" font-size="29.5">(Existing international airport)</text><text x="1107.92" y="1044.6" textLength="116.78" lengthAdjust="spacingAndGlyphs" fill="#eaa72a" stroke="#eaa72a" stroke-width="0.35" font-size="29.5">Kadapa</text><text x="1005.64" y="1141" textLength="174.14" lengthAdjust="spacingAndGlyphs" fill="#116b37" stroke="#116b37" stroke-width="0.35" font-size="29.5">Dagadarthi:</text><text x="1184.30" y="1141" textLength="156.00" lengthAdjust="spacingAndGlyphs" fill="#5a5a5a" stroke="#5a5a5a" stroke-width="0.35" font-size="29.5">Cargo hub</text><text x="1059.50" y="1181" textLength="233.92" lengthAdjust="spacingAndGlyphs" fill="#5a5a5a" stroke="#5a5a5a" stroke-width="0.35" font-size="29.5">to be developed</text><text x="1101.26" y="1257.8" textLength="117.75" lengthAdjust="spacingAndGlyphs" fill="#eaa72a" stroke="#eaa72a" stroke-width="0.35" font-size="29.5">Tirupati:</text><text x="958.24" y="1297" textLength="431.21" lengthAdjust="spacingAndGlyphs" fill="#5a5a5a" stroke="#5a5a5a" stroke-width="0.35" font-size="29.5">(Existing international airport)</text><text x="1101.67" y="1392.2" textLength="128.61" lengthAdjust="spacingAndGlyphs" fill="#116b37" stroke="#116b37" stroke-width="0.35" font-size="29.5">Kuppam</text><text x="1078.65" y="1509.4" textLength="167.78" lengthAdjust="spacingAndGlyphs" fill="#eaa72a" stroke="#eaa72a" stroke-width="0.35" font-size="29.5">Puttaparthi</text><text x="531.07" y="1643.2" textLength="230.09" lengthAdjust="spacingAndGlyphs" fill="#eaa72a" stroke="#eaa72a" stroke-width="0.35" font-size="29.5">Existing Airports</text><text x="1042.94" y="1643.2" textLength="263.33" lengthAdjust="spacingAndGlyphs" fill="#116b37" stroke="#116b37" stroke-width="0.35" font-size="29.5">Proposed facilities</text></svg>
<div class="bl j" style="top:1787.5px;width:1511.0px;transform:scaleX(0.9580)">Modern rail infrastructure: High-speed tracks and capacity for heavier loads with introduction of future</div>
<div class="bl j" style="top:1835.5px;width:1511.0px;transform:scaleX(0.9580)">mobility solutions such as bullet trains and Hyperloop, and deployment of advanced signalling and</div>
<div class="bl" style="top:1883.5px;width:1511.0px;transform:scaleX(0.9580)">communication systems to enhance safety and operational efficiency</div>
<div class="bl j" style="top:1931.5px;width:1511.0px;transform:scaleX(0.9580)">Road infra expansion: Development of access-controlled 4 lane network for 100% village and</div>
<div class="bl j" style="top:1979.5px;width:1511.0px;transform:scaleX(0.9580)">rural-urban connectivity and 6-lane road network for connectivity with social-economic zones, along</div>
<div class="bl j" style="top:2027.5px;width:1511.0px;transform:scaleX(0.9580)">with connecting each Mandal headquarter with a minimum 2-lane road. Further, completion of new</div>
<div class="bl j" style="top:2075.5px;width:1517.5px;transform:scaleX(0.9539)">road routes, such as Visakhapatnam-Raipur-Dhanbad and Vijayawada-Nagpur is imperative, for better</div>
<div class="bl" style="top:2123.5px;width:1511.0px;transform:scaleX(0.9580)">regional connectivity</div>
<div class="dot" style="top:1806.5px"></div>
<div class="dot" style="top:1950.5px"></div>
<div class="abs" style="left:0;top:2483px;width:153px;height:36px;background:#c0802f"></div>
<svg class="abs" style="left:0;top:0" width="400" height="2560" viewBox="0 0 400 2560"><polygon points="164.5,2483 173.4,2483 173.4,2487.2 168,2487.2 164.5,2486.4" fill="#111"/><g fill="none" stroke="#111" stroke-width="4.6" stroke-linejoin="miter" stroke-miterlimit="1.5" stroke-linecap="butt"><path d="M171.1,2483 V2518.7"/><path d="M182.8,2493.4 C182.8,2488.5 186.8,2485.2 191.5,2485.2 C196.5,2485.2 200.1,2489 200.1,2494 C200.1,2497.5 198.5,2500 195.5,2503 L183.2,2516.4 H203"/><path d="M225.8,2484 L209,2508.8 H233.2 M226.8,2483.2 V2518.7"/></g></svg>
<div class="abs" style="left:1657px;top:2483px;width:153px;height:36px;background:#0b661f"></div>
</body></html>
